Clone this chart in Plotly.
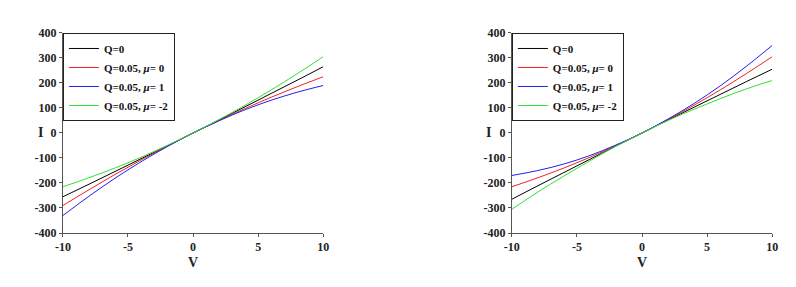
import plotly.graph_objects as go

V = [-10, -8, -6, -4, -2, 0, 2, 4, 6, 8, 10]

# Left panel
L_q0 = [-255, -205, -154, -103, -52, 0, 52, 105, 158, 211, 265]
L_mu0 = [-290, -227, -166, -108, -53, 0, 50, 98, 143, 185, 225]
L_mu1 = [-330, -253, -181, -115, -55, 0, 49, 93, 131, 163, 190]
L_mum2 = [-215, -179, -140, -97, -50, 0, 54, 111, 172, 237, 305]

# Right panel
R_q0 = [-265, -211, -158, -105, -52, 0, 52, 103, 154, 205, 255]
R_mu0 = [-215, -179, -140, -97, -50, 0, 54, 111, 172, 237, 305]
R_mu1 = [-170, -150, -124, -90, -48, 0, 56, 118, 188, 266, 350]
R_mum2 = [-305, -236, -172, -111, -53, 0, 50, 95, 137, 176, 210]

names = ["Q=0", "Q=0.05, <i>μ</i>= 0", "Q=0.05, <i>μ</i>= 1", "Q=0.05, <i>μ</i>= -2"]
colors = ["#000000", "#ee2222", "#2020ee", "#33e033"]

xticks = [-10, -5, 0, 5, 10]
xticklabels = ["-10", "-5", "0", "5", "10"]
yticks = [-400, -300, -200, -100, 0, 100, 200, 300, 400]
yticklabels = ["-400", "-300", "-200", "-100", "0", "100", "200", "300", "400"]
xlabel = "V"
ylabel = "I"

FONT = "Liberation Serif, Times New Roman, serif"

fig = go.Figure()
for ys, nm, c in zip([L_q0, L_mu0, L_mu1, L_mum2], names, colors):
    fig.add_trace(go.Scatter(x=V, y=ys, mode="lines", name=nm,
                             line=dict(color=c, width=1, shape="spline"),
                             xaxis="x", yaxis="y", legend="legend"))
for ys, nm, c in zip([R_q0, R_mu0, R_mu1, R_mum2], names, colors):
    fig.add_trace(go.Scatter(x=V, y=ys, mode="lines", name=nm,
                             line=dict(color=c, width=1, shape="spline"),
                             xaxis="x2", yaxis="y2", legend="legend2"))

axcommon = dict(showgrid=False, zeroline=False, showline=True, linecolor="#555555",
                linewidth=1, ticks="outside", ticklen=3, tickcolor="#555555",
                automargin=False,
                tickfont=dict(family=FONT, size=12, color="#222222", weight="bold"))
titlefont = dict(family=FONT, size=14, color="#222222", weight="bold")

# page body has an 8px default margin -> domains shifted accordingly
dom_l = [0.069, 0.396]
dom_r = [0.633, 0.960]
dom_y = [0.216, 0.913]

legcommon = dict(yanchor="top", xanchor="left", bgcolor="white",
                 bordercolor="#222222", borderwidth=1,
                 font=dict(family=FONT, size=11, color="#111111", weight="bold"),
                 tracegroupgap=0, itemwidth=30)

annotations = []
for xa, ya in [("x", "y"), ("x2", "y2")]:
    annotations.append(dict(text=ylabel, xref=f"{xa} domain", yref=f"{ya} domain",
                            x=-0.088, y=0.5, xanchor="center", yanchor="middle",
                            showarrow=False, font=titlefont))
    annotations.append(dict(text=xlabel, xref=f"{xa} domain", yref=f"{ya} domain",
                            x=0.5, y=-0.145, xanchor="center", yanchor="middle",
                            showarrow=False, font=titlefont))

fig.update_layout(
    width=796, height=287,
    margin=dict(l=0, r=0, t=0, b=0),
    paper_bgcolor="white", plot_bgcolor="white",
    font=dict(family=FONT, color="#222222"),
    xaxis=dict(domain=dom_l, range=[-10, 10], tickvals=xticks, ticktext=xticklabels,
               anchor="y", **axcommon),
    yaxis=dict(domain=dom_y, range=[-400, 400], tickvals=yticks, ticktext=yticklabels,
               anchor="x", **axcommon),
    xaxis2=dict(domain=dom_r, range=[-10, 10], tickvals=xticks, ticktext=xticklabels,
                anchor="y2", **axcommon),
    yaxis2=dict(domain=dom_y, range=[-400, 400], tickvals=yticks, ticktext=yticklabels,
                anchor="x2", **axcommon),
    legend=dict(x=dom_l[0], y=dom_y[1], **legcommon),
    legend2=dict(x=dom_r[0], y=dom_y[1], **legcommon),
    annotations=annotations,
    showlegend=True,
)

fig.write_html("out.html")
